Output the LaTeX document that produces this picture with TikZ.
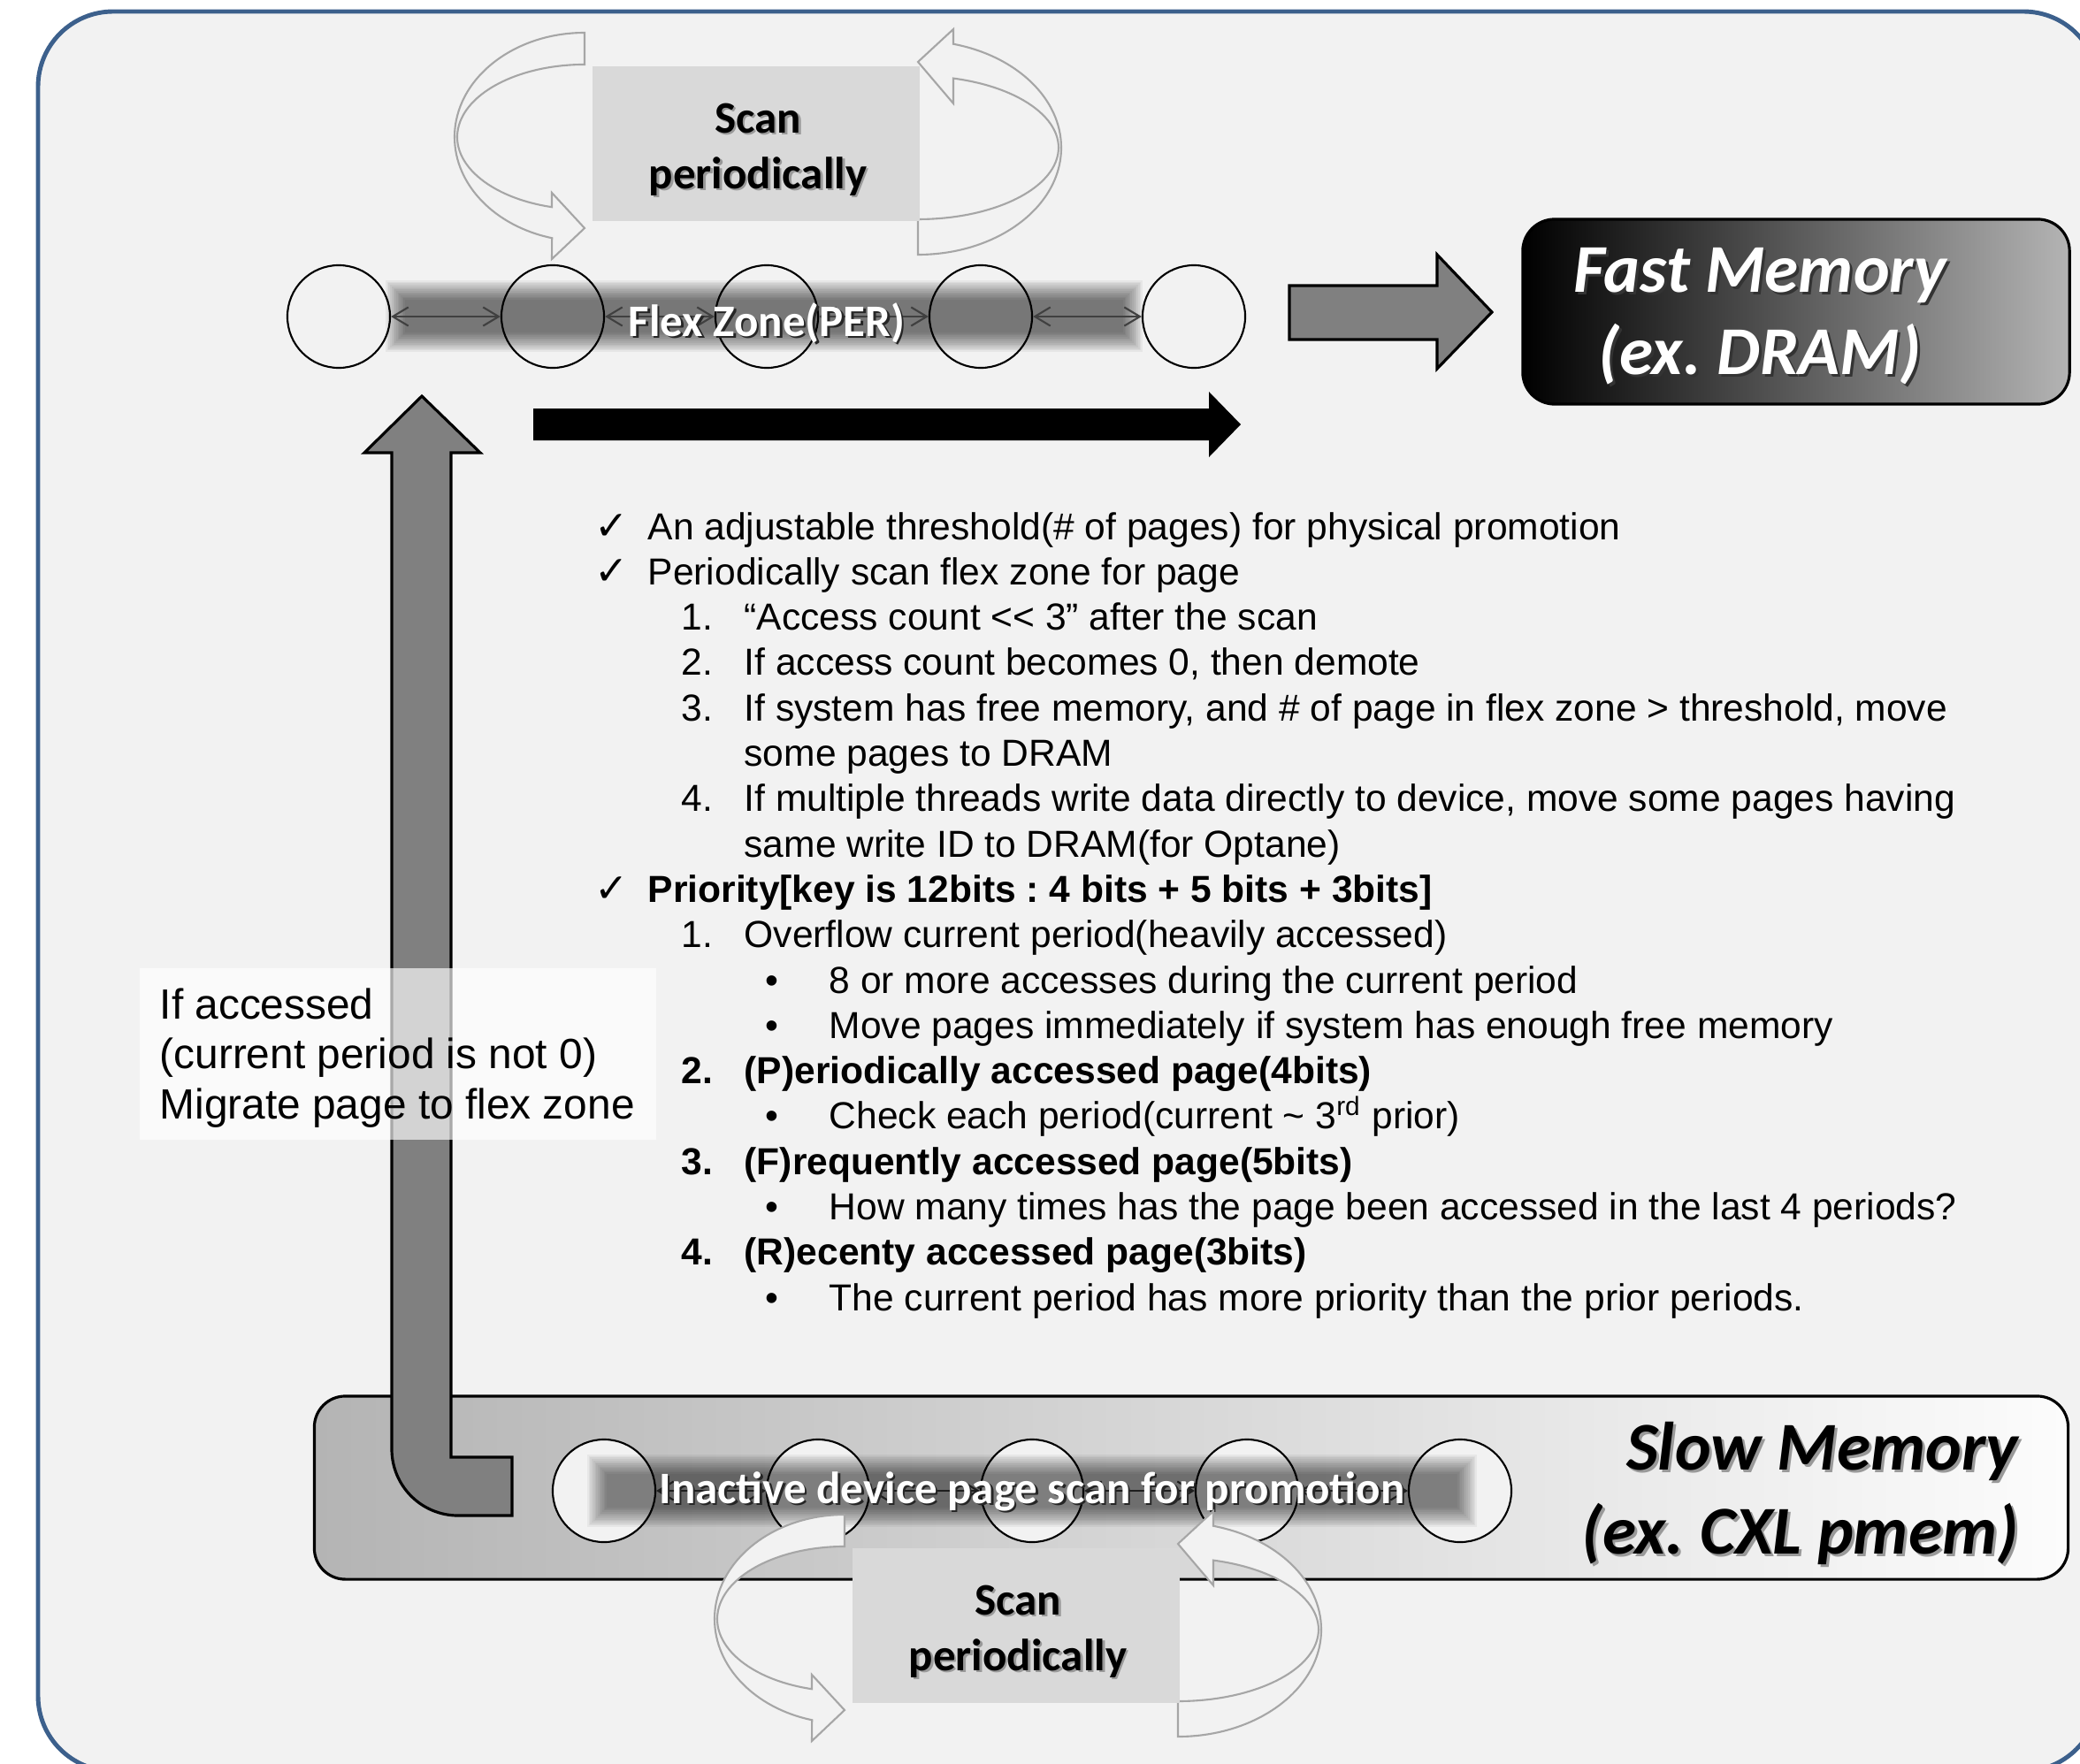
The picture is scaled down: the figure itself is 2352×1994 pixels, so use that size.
\documentclass[tikz,border=0pt]{standalone}
\usepackage{fontspec}
\setmainfont{Liberation Sans}
\newfontfamily\carl{Carlito}
\newfontfamily\djv{DejaVu Sans}
\usetikzlibrary{arrows.meta}
\definecolor{bgc}{HTML}{F2F2F2}
\definecolor{bordc}{RGB}{60,96,140}
\definecolor{scanc}{HTML}{D9D9D9}
\definecolor{carc}{HTML}{A6A6A6}
\definecolor{midg}{HTML}{808080}
\definecolor{connc}{HTML}{404040}
\definecolor{fastr}{HTML}{B4B4B4}
\definecolor{slowl}{HTML}{B4B4B4}
\definecolor{slowr}{HTML}{FCFCFC}
\frenchspacing
\begin{document}
\begin{tikzpicture}[x=0.01cm,y=-0.01cm,
 carrow/.style={draw=carc, fill=bgc, line width=0.6pt},
 scanbox/.style={fill=scanc, inner sep=0pt, minimum width=3.7cm, minimum height=1.75cm},
 stxt/.style={anchor=base, inner sep=0pt, font=\carl\bfseries\fontsize{14.5}{17}\selectfont},
 stxtsh/.style={stxt, text=black!40},
 wtxt/.style={stxt, text=white},
 wtxtsh/.style={stxt, text=black!85},
 bigtxt/.style={anchor=base, inner sep=0pt, font=\carl\bfseries\itshape\fontsize{22}{26}\selectfont},
 pagec/.style={circle, draw=black, line width=0.6pt, minimum size=1.16cm, inner sep=0pt},
 conn/.style={draw=connc, line width=0.6pt, {Straight Barb[length=5pt,width=6pt]}-{Straight Barb[length=5pt,width=6pt]}},
 garrow/.style={fill=midg, draw=black, line width=0.9pt, line join=miter},
 body/.style={anchor=base west, inner sep=0pt, font=\fontsize{12.1}{14.5}\selectfont},
 bodyb/.style={body, font=\fontsize{12.1}{14.5}\selectfont\bfseries},
 chk/.style={anchor=base west, inner sep=0pt, font=\djv\fontsize{13}{15}\selectfont},
 note/.style={anchor=base west, inner sep=0pt, font=\fontsize{13.6}{16}\selectfont}]
\useasboundingbox (0,0) rectangle (2352,1994);
\clip (0,0) rectangle (2352,1994);
\fill[white] (0,0) rectangle (2352,1994);
% outer panel
\draw[draw=bordc, line width=1.4pt, fill=bgc, rounded corners=0.85cm] (43,13) rectangle (2373,2003);

% ---------- top scan group ----------
\draw[carrow] (661,37) arc[start angle=270, end angle=104.5, x radius=147, y radius=118]
  -- (624,293) -- (661,258) -- (624,218) -- (624,234.2)
  arc[start angle=104.9, end angle=270, x radius=144, y radius=82] -- cycle;
\draw[carrow] (1038,288) arc[start angle=90, end angle=-75.7, x radius=162, y radius=121]
  -- (1078,33) -- (1038,70) -- (1078,117) -- (1078,88.6)
  arc[start angle=-75.4, end angle=90, x radius=159, y radius=81] -- cycle;
\node[scanbox] (sc1) at (855,162.5) {};
\node[stxtsh] at (859.5,152.5) {Scan};
\node[stxt] (sc1a) at (857,150) {Scan};
\node[stxtsh] at (859.5,215.5) {periodically};
\node[stxt] (sc1b) at (857,213) {periodically};

% ---------- flex zone ----------
\foreach \i in {0,...,13}
  \fill[black, opacity=0.047] ({436+1.7*\i},{317+1.7*\i}) rectangle ({1292-1.7*\i},{398-1.7*\i});
\node[pagec] (t1) at (383,358) {};
\node[pagec] (t2) at (625,358) {};
\node[pagec] (t3) at (867,358) {};
\node[pagec] (t4) at (1109,358) {};
\node[pagec] (t5) at (1350,358) {};
\draw[conn] (t1) -- (t2);
\draw[conn] (t2) -- (t3);
\draw[conn] (t3) -- (t4);
\draw[conn] (t4) -- (t5);
\node[wtxtsh] at (869.5,382.5) {Flex Zone(PER)};
\node[wtxt] (flex) at (867,380) {Flex Zone(PER)};

% ---------- fast memory ----------
\draw[garrow] (1458,323) -- (1625,323) -- (1625,288) -- (1687,353) -- (1625,417) -- (1625,384) -- (1458,384) -- cycle;
\node[draw=black, line width=0.9pt, rounded corners=0.36cm, left color=black, right color=fastr,
      minimum width=6.18cm, minimum height=2.09cm, inner sep=0pt] (fast) at (2031,352.5) {};
\node[bigtxt, text=black!80] at (1993,333) {Fast Memory};
\node[bigtxt, text=white] (fast1) at (1990,330) {Fast Memory};
\node[bigtxt, text=black!80] at (1993,426) {(ex. DRAM)};
\node[bigtxt, text=white] (fast2) at (1990,423) {(ex. DRAM)};

% black arrow
\fill[black] (603,462) -- (1367,462) -- (1367,443) -- (1403,480) -- (1367,517) -- (1367,498) -- (603,498) -- cycle;

% ---------- text list ----------
\node[chk] (k0) at (672,610) {✓};
\node[body] (l0) at (732,610) {An adjustable threshold(\# of pages) for physical promotion};
\node[chk] (k1) at (672,661.3) {✓};
\node[body] (l1) at (732,661.3) {Periodically scan flex zone for page};
\node[body] (n2) at (770,712.6) {1.};
\node[body] (l2) at (841,712.6) {“Access count <{}< 3” after the scan};
\node[body] (n3) at (770,763.9) {2.};
\node[body] (l3) at (841,763.9) {If access count becomes 0, then demote};
\node[body] (n4) at (770,815.2) {3.};
\node[body] (l4) at (841,815.2) {If system has free memory, and \# of page in flex zone > threshold, move};
\node[body] (l5) at (841,866.5) {some pages to DRAM};
\node[body] (n6) at (770,917.8) {4.};
\node[body] (l6) at (841,917.8) {If multiple threads write data directly to device, move some pages having};
\node[body] (l7) at (841,969.1) {same write ID to DRAM(for Optane)};
\node[chk] (k8) at (672,1020.4) {✓};
\node[bodyb] (l8) at (732,1020.4) {Priority[key is 12bits : 4 bits + 5 bits + 3bits]};
\node[body] (n9) at (770,1071.7) {1.};
\node[body] (l9) at (841,1071.7) {Overflow current period(heavily accessed)};
\node[body] (d10) at (865,1123) {•};
\node[body] (l10) at (937,1123) {8 or more accesses during the current period};
\node[body] (d11) at (865,1174.3) {•};
\node[body] (l11) at (937,1174.3) {Move pages immediately if system has enough free memory};
\node[bodyb] (n12) at (770,1225.6) {2.};
\node[bodyb] (l12) at (841,1225.6) {(P)eriodically accessed page(4bits)};
\node[body] (d13) at (865,1276.9) {•};
\node[body] (l13) at (937,1276.9) {Check each period(current \textasciitilde{} 3\textsuperscript{rd} prior)};
\node[bodyb] (n14) at (770,1328.2) {3.};
\node[bodyb] (l14) at (841,1328.2) {(F)requently accessed page(5bits)};
\node[body] (d15) at (865,1379.5) {•};
\node[body] (l15) at (937,1379.5) {How many times has the page been accessed in the last 4 periods?};
\node[bodyb] (n16) at (770,1430.8) {4.};
\node[bodyb] (l16) at (841,1430.8) {(R)ecenty accessed page(3bits)};
\node[body] (d17) at (865,1482.1) {•};
\node[body] (l17) at (937,1482.1) {The current period has more priority than the prior periods.};

% ---------- slow memory ----------
\node[draw=black, line width=0.9pt, rounded corners=0.35cm, left color=slowl, right color=slowr,
      minimum width=19.82cm, minimum height=2.07cm, inner sep=0pt] (slow) at (1347,1682.5) {};
\node[bigtxt, anchor=base east, text=black!40] at (2286,1665) {Slow Memory};
\node[bigtxt, anchor=base east] (slow1) at (2283,1662) {Slow Memory};
\node[bigtxt, anchor=base east, text=black!40] at (2286,1760) {(ex. CXL pmem)};
\node[bigtxt, anchor=base east] (slow2) at (2283,1757) {(ex. CXL pmem)};

\node[pagec, fill=bgc] (b1) at (683,1686) {};
\node[pagec, fill=bgc] (b2) at (925,1686) {};
\node[pagec, fill=bgc] (b3) at (1167,1686) {};
\node[pagec, fill=bgc] (b4) at (1410,1686) {};
\node[pagec, fill=bgc] (b5) at (1651,1686) {};
\draw[conn] (b1) -- (b2);
\draw[conn] (b2) -- (b3);
\draw[conn] (b3) -- (b4);
\draw[conn] (b4) -- (b5);
\foreach \i in {0,...,13}
  \fill[black, opacity=0.043] ({664+1.7*\i},{1645+1.7*\i}) rectangle ({1670-1.7*\i},{1727-1.7*\i});
\node[wtxtsh] at (1169.5,1702.5) {Inactive device page scan for promotion};
\node[wtxt] (inact) at (1167,1700) {Inactive device page scan for promotion};

% ---------- bottom scan group ----------
\begin{scope}[shift={(294,1676)}]
\draw[carrow] (661,37) arc[start angle=270, end angle=104.5, x radius=147, y radius=118]
  -- (624,293) -- (661,258) -- (624,218) -- (624,234.2)
  arc[start angle=104.9, end angle=270, x radius=144, y radius=82] -- cycle;
\draw[carrow] (1038,288) arc[start angle=90, end angle=-75.7, x radius=162, y radius=121]
  -- (1078,33) -- (1038,70) -- (1078,117) -- (1078,88.6)
  arc[start angle=-75.4, end angle=90, x radius=159, y radius=81] -- cycle;
\node[scanbox] (sc2) at (855,162.5) {};
\node[stxtsh] at (859.5,152.5) {Scan};
\node[stxt] (sc2a) at (857,150) {Scan};
\node[stxtsh] at (859.5,215.5) {periodically};
\node[stxt] (sc2b) at (857,213) {periodically};
\end{scope}

% ---------- L-shaped up arrow ----------
\draw[garrow] (477,448) -- (543,512) -- (510,512) -- (510,1648) -- (579,1648) -- (579,1714) -- (518,1714)
  arc[start angle=90, end angle=180, radius=75] -- (443,512) -- (412,512) -- cycle;

% ---------- note box ----------
\node[fill=white, fill opacity=0.66, minimum width=5.84cm, minimum height=1.94cm, inner sep=0pt] (acbox) at (450,1192) {};
\node[note] (ac1) at (180,1152) {If accessed};
\node[note] (ac2) at (180,1208) {(current period is not 0)};
\node[note] (ac3) at (180,1265) {Migrate page to flex zone};
\end{tikzpicture}
\end{document}
